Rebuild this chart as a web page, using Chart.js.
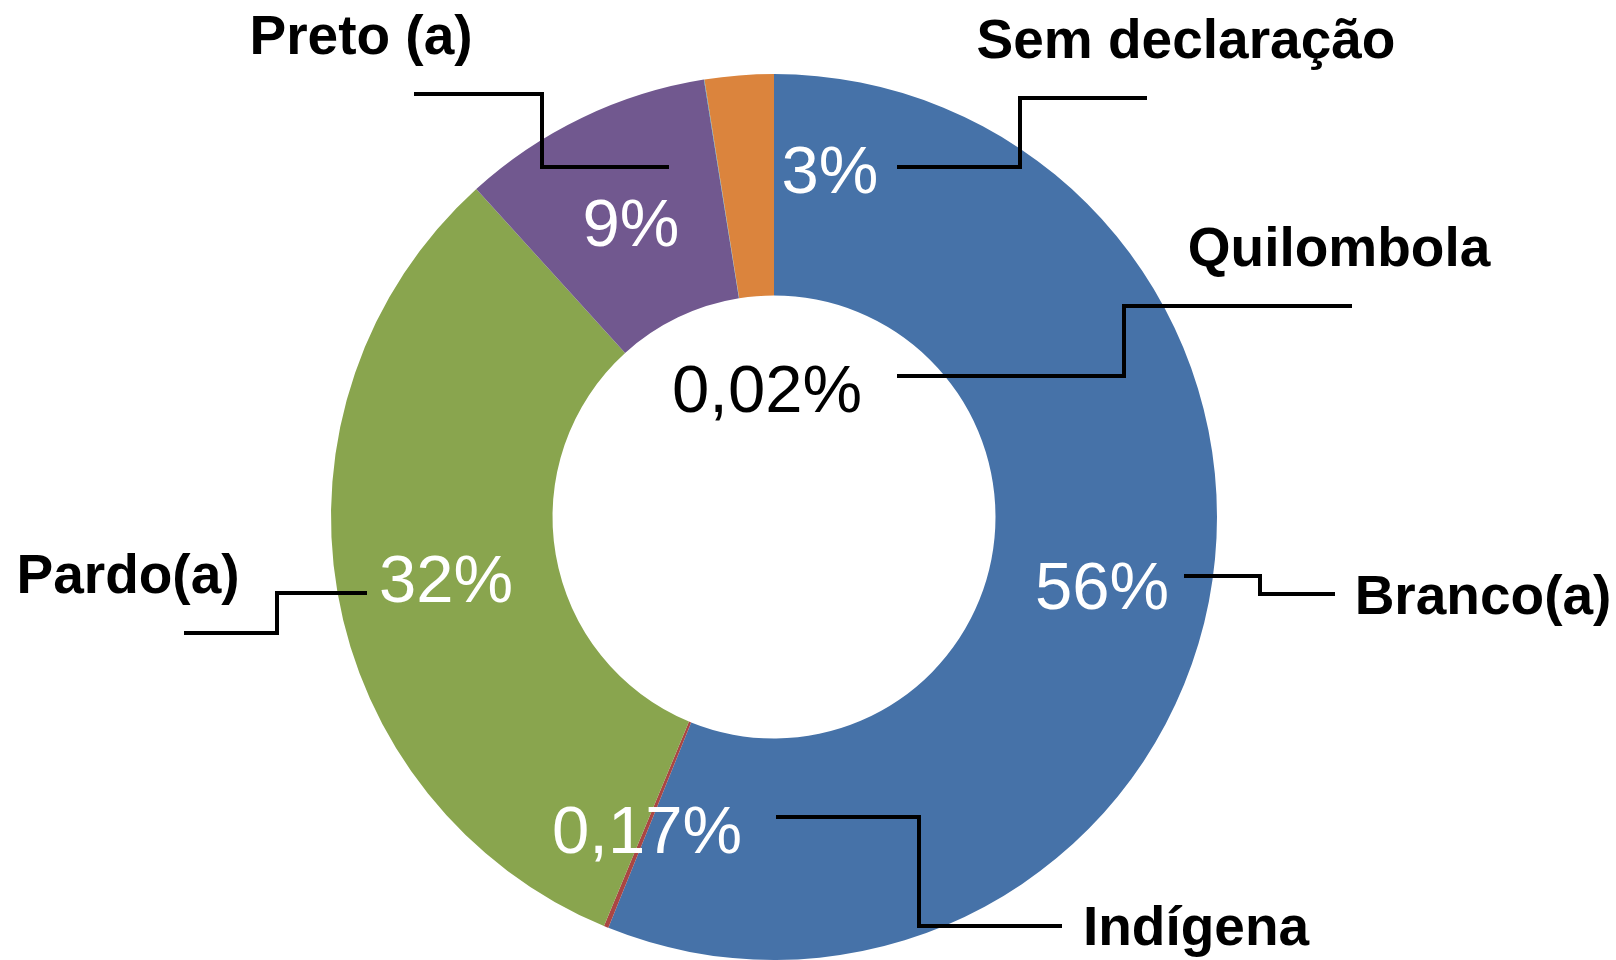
<!DOCTYPE html>
<html>
<head>
<meta charset="utf-8">
<script src="https://cdn.jsdelivr.net/npm/chart.js@4/dist/chart.umd.min.js"></script>
<style>
  html, body { margin: 0; padding: 0; background: #fff; }
  #wrap { width: 1616px; height: 960px; }
</style>
</head>
<body>
<div id="wrap"><canvas id="pie" width="1616" height="960"></canvas></div>
<script>
// --- data ---
const categories = ['Branco(a)', 'Indígena', 'Pardo(a)', 'Preto (a)', 'Quilombola', 'Sem declaração'];
const shares     = [56.1, 0.17, 32.0, 9.2, 0.02, 2.51];
const sliceColors = ['#4672A8', '#AA4643', '#89A54E', '#71588F', '#4198AF', '#DB843D'];

// where Excel's hand-dragged labels sit, offset from the ring centre (px)
const nameSpots  = [[709, 97], [422, 428], [-646, 76], [-413, -463], [565, -251], [412, -459]];
const valueSpots = [[328, 92], [-127, 336], [-328, 85], [-143, -271], [-7, -105], [56, -324]];
const valueInk   = ['#fff', '#fff', '#fff', '#fff', '#000', '#fff'];
const leaders = [
  [[410, 59], [486, 59], [486, 77], [561, 77]],
  [[2, 300], [145, 300], [145, 409], [288, 409]],
  [[-407, 76], [-497, 76], [-497, 116], [-590, 116]],
  [[-360, -423], [-232, -423], [-232, -350], [-105, -350]],
  [[123, -141], [350, -141], [350, -211], [578, -211]],
  [[123, -350], [246, -350], [246, -419], [373, -419]]
];

function pctText(v) {
  if (v >= 1) return Math.round(v) + '%';
  return v.toFixed(2).replace('.', ',') + '%';
}

const calloutPlugin = {
  id: 'callouts',
  afterDatasetsDraw(chart) {
    const ctx = chart.ctx;
    const arc = chart.getDatasetMeta(0).data[0];
    const cx = arc.x, cy = arc.y;
    ctx.save();

    ctx.strokeStyle = '#000';
    ctx.lineWidth = 4;
    ctx.lineJoin = 'miter';
    leaders.forEach(pts => {
      ctx.beginPath();
      pts.forEach((p, i) => {
        if (i === 0) ctx.moveTo(cx + p[0], cy + p[1]);
        else ctx.lineTo(cx + p[0], cy + p[1]);
      });
      ctx.stroke();
    });

    ctx.textAlign = 'center';
    ctx.textBaseline = 'alphabetic';

    ctx.font = '67px "Liberation Sans", Arial, sans-serif';
    shares.forEach((v, i) => {
      ctx.fillStyle = valueInk[i];
      ctx.fillText(pctText(v), cx + valueSpots[i][0], cy + valueSpots[i][1]);
    });

    ctx.font = 'bold 55px "Liberation Sans", Arial, sans-serif';
    ctx.fillStyle = '#000';
    categories.forEach((name, i) => {
      ctx.fillText(name, cx + nameSpots[i][0], cy + nameSpots[i][1]);
    });

    ctx.restore();
  }
};

new Chart(document.getElementById('pie'), {
  type: 'doughnut',
  data: {
    labels: categories,
    datasets: [{
      data: shares,
      backgroundColor: sliceColors,
      borderWidth: 0
    }]
  },
  options: {
    responsive: false,
    animation: false,
    cutout: '50%',
    layout: { padding: { top: 74, bottom: 0, left: 0, right: 68 } },
    plugins: { legend: { display: false }, tooltip: { enabled: false } }
  },
  plugins: [calloutPlugin]
});
</script>
</body>
</html>
